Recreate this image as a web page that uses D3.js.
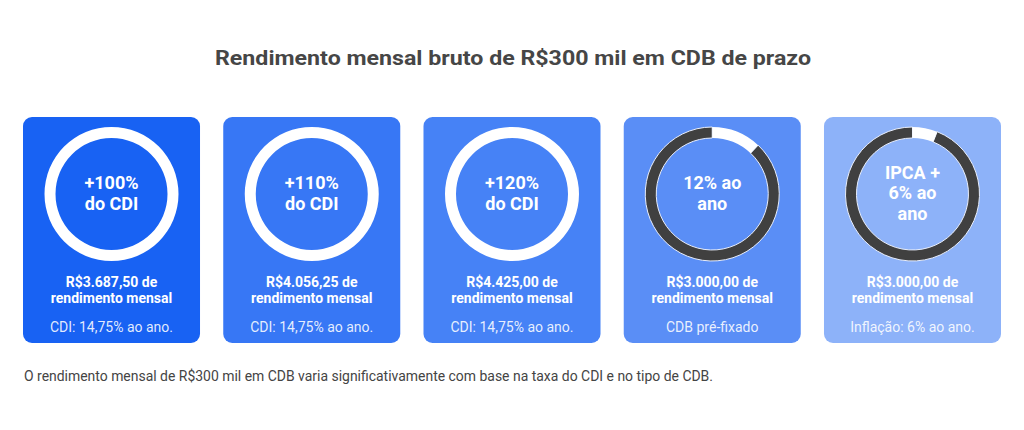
<!DOCTYPE html>
<html>
<head>
<meta charset="utf-8">
<script src="https://cdn.jsdelivr.net/npm/d3@7"></script>
<style>
  body { margin: 0; background: #fff; }
  text { font-family: Roboto, "Noto Sans", sans-serif; }
</style>
</head>
<body>
<div id="chart"></div>
<script>
const svgWidth = 1024;
const svgHeight = 430;

// data
const categories = ["cdi100", "cdi110", "cdi120", "pre", "ipca"];
const ringLabels = [
    ["+100%", "do CDI"],
    ["+110%", "do CDI"],
    ["+120%", "do CDI"],
    ["12% ao", "ano"],
    ["IPCA +", "6% ao", "ano"]
];
const rates = [100, 110, 120, 12, 6];
const incomes = ["R$3.687,50", "R$4.056,25", "R$4.425,00", "R$3.000,00", "R$3.000,00"];
const notes = ["CDI: 14,75% ao ano.", "CDI: 14,75% ao ano.", "CDI: 14,75% ao ano.", "CDB pré-fixado", "Inflação: 6% ao ano."];
const cardColors = ["#1862f3", "#3777f5", "#4682f6", "#5a8ef6", "#8db2f9"];

const title = "Rendimento mensal bruto de R$300 mil em CDB de prazo";
const footer = "O rendimento mensal de R$300 mil em CDB varia significativamente com base na taxa do CDI e no tipo de CDB.";

const svg = d3.select("#chart")
    .append("svg")
    .attr("width", svgWidth)
    .attr("height", svgHeight);

svg.append("text")
    .attr("x", 513)
    .attr("y", 65)
    .attr("text-anchor", "middle")
    .attr("font-size", 21)
    .attr("font-weight", 700)
    .attr("fill", "#464646")
    .attr("textLength", 596)
    .attr("lengthAdjust", "spacingAndGlyphs")
    .text(title);

svg.append("text")
    .attr("x", 24)
    .attr("y", 381)
    .attr("font-size", 14)
    .attr("fill", "#444")
    .attr("textLength", 689)
    .attr("lengthAdjust", "spacingAndGlyphs")
    .text(footer);

const x = d3.scaleBand()
    .domain(categories)
    .range([23, 1001])
    .paddingInner(0.116);

const angle = d3.scaleLinear()
    .domain([0, 100])
    .range([0, 2 * Math.PI])
    .clamp(true);

const arc = d3.arc().innerRadius(56).outerRadius(67);

const cards = svg.selectAll("g.card")
    .data(categories)
    .enter()
    .append("g")
    .attr("class", "card")
    .attr("transform", d => `translate(${x(d)}, 117)`);

cards.append("rect")
    .attr("width", x.bandwidth())
    .attr("height", 226)
    .attr("rx", 9)
    .attr("fill", (d, i) => cardColors[i]);

const ring = cards.append("g")
    .attr("transform", `translate(${x.bandwidth() / 2}, 77)`);

// dark remainder of the ring
ring.append("path")
    .attr("d", (d, i) => arc({ startAngle: angle(rates[i]), endAngle: 2 * Math.PI }))
    .attr("fill", "#404040")
    .attr("stroke", (d, i) => rates[i] < 100 ? "#e8eefc" : "none")
    .attr("stroke-width", 1);

// white share = rate
ring.append("path")
    .attr("d", (d, i) => arc({ startAngle: 0, endAngle: angle(rates[i]) }))
    .attr("fill", "#fff");

ring.each(function(d, i) {
    const lines = ringLabels[i];
    const lh = 20.5;
    const y0 = -((lines.length - 1) * lh) / 2 - 1;
    d3.select(this).selectAll("text")
        .data(lines)
        .enter()
        .append("text")
        .attr("y", (t, j) => y0 + j * lh)
        .attr("dy", "0.35em")
        .attr("text-anchor", "middle")
        .attr("font-size", 18)
        .attr("font-weight", 700)
        .attr("fill", "#fff")
        .text(t => t);
});

cards.append("text")
    .attr("x", x.bandwidth() / 2)
    .attr("y", 170)
    .attr("text-anchor", "middle")
    .attr("font-size", 14)
    .attr("font-weight", 700)
    .attr("fill", "#fff")
    .text((d, i) => incomes[i] + " de");

cards.append("text")
    .attr("x", x.bandwidth() / 2)
    .attr("y", 186)
    .attr("text-anchor", "middle")
    .attr("font-size", 14)
    .attr("font-weight", 700)
    .attr("fill", "#fff")
    .text("rendimento mensal");

cards.append("text")
    .attr("x", x.bandwidth() / 2)
    .attr("y", 215)
    .attr("text-anchor", "middle")
    .attr("font-size", 14)
    .attr("fill", "rgba(255,255,255,0.88)")
    .text((d, i) => notes[i]);
</script>
</body>
</html>
